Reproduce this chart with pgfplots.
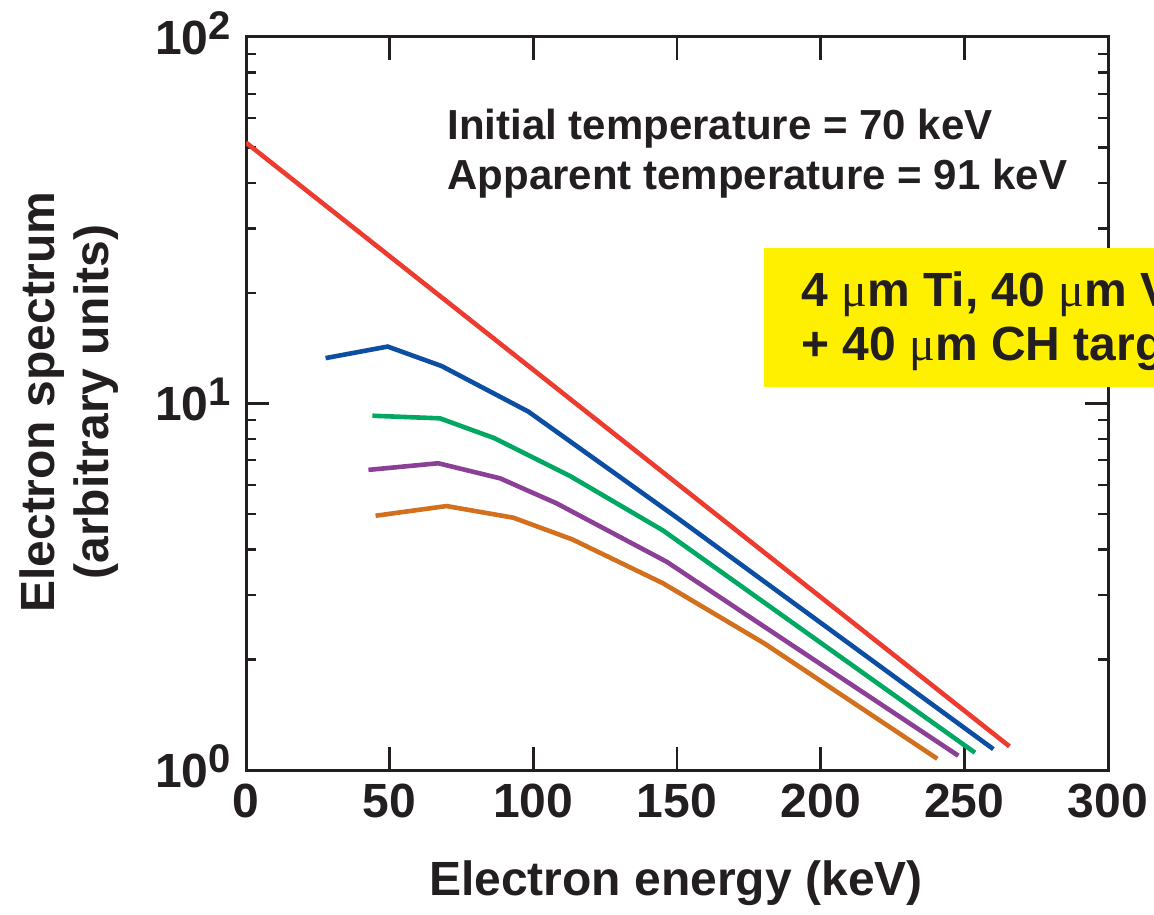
\documentclass[border=0pt]{standalone}
\usepackage{pgfplots}
\pgfplotsset{compat=1.18}
\usepackage{fontspec}
\setmainfont{Liberation Sans}
\newfontfamily\mufont{Liberation Serif}

\definecolor{axc}{HTML}{231F20}
\definecolor{cred}{HTML}{EE3B2F}
\definecolor{cblue}{HTML}{0B4EA2}
\definecolor{cgreen}{HTML}{00A862}
\definecolor{cpurple}{HTML}{8C3F97}
\definecolor{corange}{HTML}{D2701E}
\definecolor{cyel}{HTML}{FFF000}

\newcommand{\pw}[1]{\raisebox{7.5pt}{\fontsize{20}{20}\selectfont #1}}
\newcommand{\mum}{{\mufont\mdseries μ}m}

\begin{document}
\begin{tikzpicture}
\begin{axis}[
  at={(0,0)}, anchor=south west,
  scale only axis, width=431pt, height=366.5pt,
  xmin=0, xmax=300,
  ymode=log, ymin=1, ymax=100,
  xtick={0,50,100,150,200,250,300},
  xticklabels={0,50,100,150,200,250,300},
  ytick={1,10,100},
  yticklabels={10\pw{0},10\pw{1},10\pw{2}},
  minor ytick={2,3,4,5,6,7,8,9,20,30,40,50,60,70,80,90},
  tick align=inside,
  major tick length=11.5pt, minor tick length=5pt,
  tick style={line width=1.2pt, color=axc},
  axis line style={line width=1.5pt, color=axc},
  ticklabel style={font=\fontsize{24}{28}\selectfont\bfseries, text=axc},
  xticklabel style={yshift=-3.5pt},
  yticklabel style={xshift=-4pt, yshift=2pt},
  every axis plot/.append style={line width=2.3pt},
]
  % exponential with the initial temperature
  \addplot[cred] coordinates {(0,51.5) (265.7,1.16)};
  % transmitted spectra
  \addplot[cblue] coordinates {(27.7,13.3) (49.3,14.3) (68.1,12.65) (98.3,9.5) (151.1,4.81) (260.1,1.14)};
  \addplot[cgreen] coordinates {(44.0,9.26) (67.5,9.11) (86.3,8.05) (112.8,6.34) (145.2,4.50) (253.7,1.115)};
  \addplot[cpurple] coordinates {(42.6,6.59) (66.9,6.87) (88.4,6.25) (108.1,5.34) (146.4,3.70) (247.9,1.094)};
  \addplot[corange] coordinates {(45.1,4.94) (69.8,5.25) (93.0,4.88) (113.5,4.26) (145.2,3.23) (180.6,2.21) (240.6,1.073)};
\end{axis}

% labels
\node[anchor=base, font=\fontsize{24}{28}\selectfont\bfseries, text=axc]
  at (215pt,-62.5pt) {Electron energy (keV)};
\node[rotate=90, anchor=base, align=center, font=\fontsize{24}{26.5}\selectfont\bfseries, text=axc]
  at (-69pt,184pt) {Electron spectrum\\(arbitrary units)};

% annotations
\node[anchor=base west, inner sep=0pt, font=\fontsize{21}{24}\selectfont\bfseries, text=axc]
  at (100.5pt,315pt) {Initial temperature = 70 keV};
\node[anchor=base west, inner sep=0pt, font=\fontsize{21}{24}\selectfont\bfseries, text=axc]
  at (100.5pt,290pt) {Apparent temperature = 91 keV};

\fill[cyel] (259pt,191.5pt) rectangle (480pt,261pt);
\node[anchor=base west, inner sep=0pt, font=\fontsize{24}{28}\selectfont\bfseries, text=axc]
  at (277.5pt,231.5pt) {4 \mum{} Ti, 40 \mum{} V};
\node[anchor=base west, inner sep=0pt, font=\fontsize{24}{28}\selectfont\bfseries, text=axc]
  at (277.5pt,204.6pt) {+ 40 \mum{} CH target};

\pgfresetboundingbox
\path[use as bounding box] (-123pt,-72pt) rectangle (454pt,385pt);
\end{tikzpicture}
\end{document}
